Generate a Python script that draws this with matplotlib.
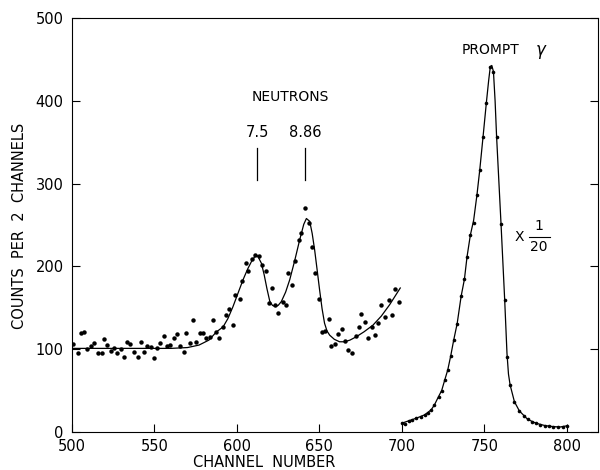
import matplotlib
matplotlib.use("Agg")
import matplotlib.pyplot as plt

# Neutron region data points (channel, counts per 2 channels)
neutron_x = [500.8, 503.6, 505.3, 507.1, 509.3, 511.3, 513.3, 515.6, 518.0, 519.2,
             521.4, 523.6, 525.6, 527.4, 529.5, 531.3, 533.5, 535.1, 537.7, 539.9,
             541.8, 543.6, 545.6, 547.6, 549.5, 551.6, 553.4, 555.5, 557.3, 559.7,
             561.6, 563.4, 565.6, 567.6, 569.0, 571.4, 573.1, 575.1, 577.7, 579.5,
             581.5, 583.5, 585.5, 587.2, 589.2, 591.6, 593.4, 595.0, 597.9, 599.1,
             601.7, 603.3, 605.3, 607.0, 609.0, 611.2, 613.4, 615.4, 617.6, 619.4,
             621.5, 623.3, 625.1, 627.7, 629.5, 630.9, 633.2, 635.2, 637.4, 639.0,
             641.2, 643.6, 645.7, 647.5, 649.7, 651.5, 653.3, 655.6, 657.2, 659.6,
             661.4, 663.9, 665.4, 667.5, 669.9, 672.3, 673.7, 675.4, 677.5, 679.4,
             682.0, 683.6, 685.8, 687.6, 689.9, 691.9, 693.7, 696.1, 698.4]
neutron_y = [106, 96, 120, 121, 100, 104, 107, 96, 95, 112,
             105, 98, 101, 95, 100, 91, 109, 106, 97, 91,
             109, 97, 104, 103, 89, 102, 107, 116, 104, 105,
             113, 118, 104, 97, 120, 108, 135, 109, 119, 119,
             113, 115, 135, 121, 114, 127, 141, 149, 129, 166,
             161, 182, 204, 195, 209, 214, 213, 202, 195, 156,
             174, 153, 144, 157, 154, 192, 178, 207, 232, 240,
             271, 252, 223, 192, 161, 121, 122, 137, 104, 106,
             118, 124, 110, 99, 96, 116, 127, 143, 133, 113,
             127, 117, 132, 154, 139, 160, 141, 173, 157]

# Neutron fitted curve
nfit_x = [500, 520, 540, 560, 570, 577, 583, 587.6, 591.6, 594.5, 597.6, 600.5, 603.7,
          606.5, 608.8, 610.8, 612.5, 614.8, 616.5, 618.2, 619.9, 621.5, 623.3, 625.0,
          626.9, 629.5, 632, 635, 638, 640.5, 642.1, 644.1, 645.6, 647.1, 648.6, 650.1,
          651.6, 653.1, 654.6, 656.2, 659, 662.2, 665.2, 668.5, 672.3, 677, 682.4,
          687.5, 692.5, 699]
nfit_y = [101, 101, 101, 101, 102, 105, 111, 121, 127, 137, 151.5, 167, 184,
          197, 206, 212, 213, 204, 190, 173, 158, 153, 151.5, 153,
          157.6, 169, 184, 207, 232, 251, 258, 254.6, 240, 220, 196, 171.7,
          149, 131.4, 122, 117, 112, 109, 109, 111, 115, 121, 129,
          140, 153.6, 174]

# Prompt gamma data points (plotted at 1/20 scale)
prompt_x = [699.9, 702.0, 704.2, 706.2, 708.6, 711.3, 713.7, 716.1, 717.7, 719.7,
            722.2, 724.1, 726.0, 727.8, 729.6, 731.4, 733.5, 735.9, 737.9, 739.5,
            741.5, 743.5, 745.5, 747.2, 749.2, 751.2, 753.6, 755.5, 757.4, 760.1,
            762.3, 763.7, 765.6, 768.2, 771.2, 773.8, 776.2, 778.6, 781.3, 783.9,
            786.7, 789.3, 791.9, 794.8, 797.4, 799.8]
prompt_y = [10.5, 9.7, 13.7, 14.5, 16.5, 18.5, 20.6, 23.4, 26.6, 32.6,
            42.7, 50, 63, 75, 92, 111, 131, 164, 184.6, 212,
            238, 253, 286.6, 316.8, 357, 398, 441.7, 435.6, 357, 251,
            160, 91, 56.8, 36.6, 25.4, 19.3, 15.3, 12.5, 10.5, 8.9,
            7.7, 6.8, 6.4, 6.0, 6.4, 7.3]

# Prompt gamma curve
pfit_x = [699.9, 704.2, 708.6, 713.7, 717.7, 719.7, 722.2, 724.1, 726.0, 727.8,
          729.6, 731.4, 733.5, 735.9, 737.9, 739.5, 741.5, 743.5, 745.5, 747.2,
          749.2, 751.2, 752.6, 753.6, 754.5, 755.5, 756.5, 757.4, 760.1, 762.3,
          763.7, 764.6, 765.6, 768.2, 771.2, 776.2, 781.3, 786.7, 791.9, 796, 799.8]
pfit_y = [10.5, 13.5, 16.5, 20.6, 26.6, 32.6, 42.7, 50, 63, 75,
          92, 111, 131, 164, 184.6, 212, 238, 256, 286.6, 316.8,
          357, 398, 425, 441.7, 443, 435.6, 400, 357, 251, 160,
          95, 70, 56.8, 36.6, 25.4, 15.3, 10.5, 7.7, 6.4, 6.0, 7.3]

x_ticks = [500, 550, 600, 650, 700, 750, 800]
y_ticks = [0, 100, 200, 300, 400, 500]

fig = plt.figure(figsize=(6.0, 4.7), dpi=100)
ax = fig.add_axes([0.12, 0.081, 0.877, 0.880])

ax.plot(nfit_x, nfit_y, color="black", lw=0.9)
ax.plot(neutron_x, neutron_y, "o", color="black", ms=3.2, mec="none")
ax.plot(pfit_x, pfit_y, color="black", lw=0.9)
ax.plot(prompt_x, prompt_y, "o", color="black", ms=2.6, mec="none")

ax.set_xlim(500, 819)
ax.set_ylim(0, 500)
ax.set_xticks(x_ticks)
ax.set_yticks(y_ticks)
ax.tick_params(direction="in", length=6, width=0.8, labelsize=10.5, color="black")
ax.tick_params(axis="y", pad=6, right=True)
ax.tick_params(axis="x", pad=5)
for s in ax.spines.values():
    s.set_linewidth(0.8)

# annotations
ax.text(632.6, 405, "NEUTRONS", ha="center", va="center", fontsize=10)
ax.text(612.4, 362, "7.5", ha="center", va="center", fontsize=10.5)
ax.text(641.2, 362, "8.86", ha="center", va="center", fontsize=10.5)
ax.plot([612.2, 612.2], [305, 343], color="black", lw=0.9)
ax.plot([641.4, 641.4], [305, 343], color="black", lw=0.9)
ax.text(753.5, 462, "PROMPT", ha="center", va="center", fontsize=10)
ax.text(784.3, 459, r"$\gamma$", ha="center", va="center", fontsize=12)
ax.text(771, 236, "X", ha="center", va="center", fontsize=10)
ax.text(783, 249, "1", ha="center", va="center", fontsize=10)
ax.text(783, 223, "20", ha="center", va="center", fontsize=10)
ax.plot([777, 789.5], [236, 236], color="black", lw=0.8)

fig.text(0.032, 0.52, "COUNTS  PER  2  CHANNELS", rotation=90, ha="center", va="center", fontsize=10.5)
fig.text(0.44, 0.017, "CHANNEL  NUMBER", ha="center", va="center", fontsize=10.5)

fig.savefig("out.png", dpi=100)
